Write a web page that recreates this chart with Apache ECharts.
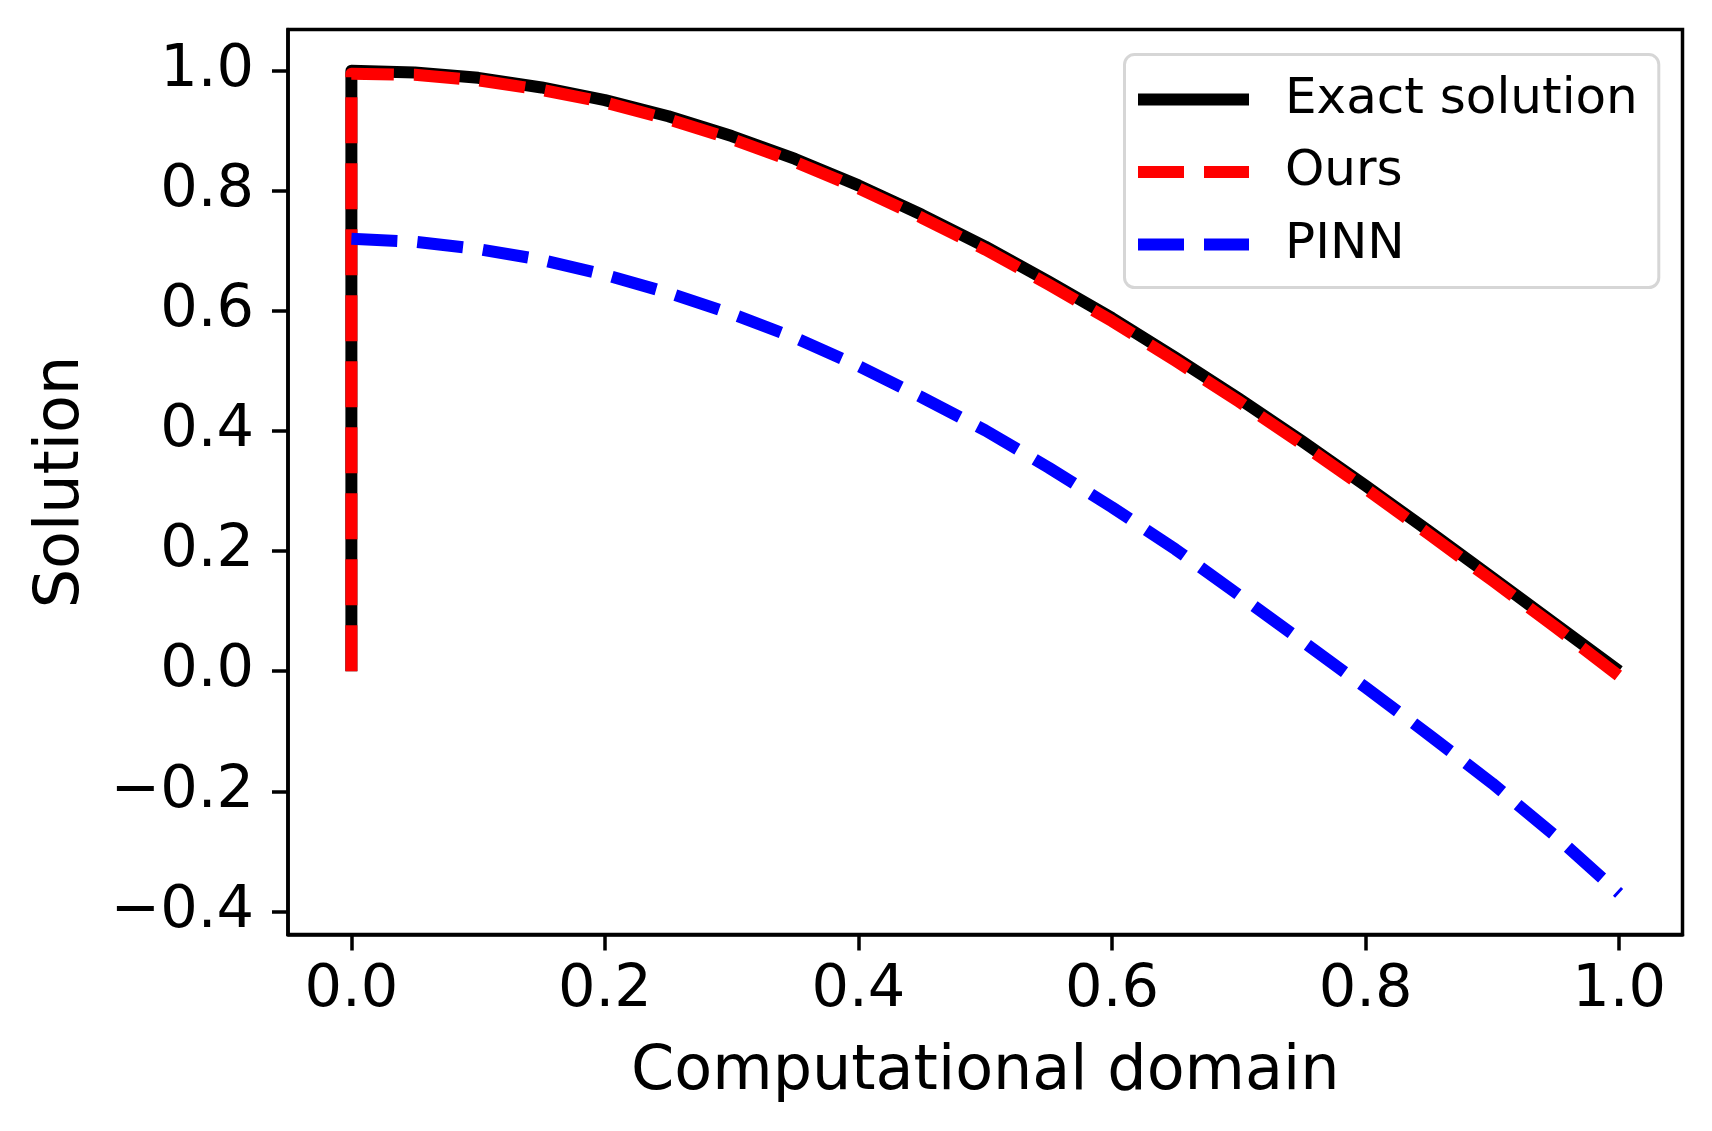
<!DOCTYPE html>
<html>
<head>
<meta charset="utf-8">
<script src="https://cdn.jsdelivr.net/npm/echarts@6/dist/echarts.min.js"></script>
<style>
  html, body { margin: 0; padding: 0; background: #fff; }
  #chart { width: 1712px; height: 1131px; }
</style>
</head>
<body>
<div id="chart"></div>
<script>
// ---- Data ----
const seriesNames = ['Exact solution', 'Ours', 'PINN'];

const exactX = [0, 0, 0.05, 0.10, 0.15, 0.20, 0.25, 0.30, 0.35, 0.40, 0.45, 0.50, 0.55, 0.60, 0.65, 0.70, 0.75, 0.80, 0.85, 0.90, 0.95, 1.00];
const exactY = [0, 1.000, 0.997, 0.988, 0.972, 0.951, 0.924, 0.891, 0.853, 0.809, 0.760, 0.707, 0.649, 0.588, 0.522, 0.454, 0.383, 0.309, 0.233, 0.156, 0.078, 0.000];

const oursX = [0, 0, 0.05, 0.10, 0.15, 0.20, 0.25, 0.30, 0.35, 0.40, 0.45, 0.50, 0.55, 0.60, 0.65, 0.70, 0.75, 0.80, 0.85, 0.90, 0.95, 1.00];
const oursY = [0, 0.995, 0.993, 0.984, 0.968, 0.947, 0.919, 0.886, 0.848, 0.804, 0.755, 0.702, 0.644, 0.583, 0.517, 0.449, 0.378, 0.304, 0.228, 0.151, 0.073, -0.008];

const pinnX = [0, 0.05, 0.10, 0.15, 0.20, 0.25, 0.30, 0.35, 0.40, 0.45, 0.50, 0.55, 0.60, 0.65, 0.70, 0.75, 0.80, 0.85, 0.90, 0.95, 1.00];
const pinnY = [0.720, 0.715, 0.703, 0.685, 0.660, 0.630, 0.595, 0.555, 0.508, 0.456, 0.401, 0.339, 0.273, 0.203, 0.127, 0.050, -0.027, -0.106, -0.187, -0.275, -0.370];

const xTicks = [0, 0.2, 0.4, 0.6, 0.8, 1.0];
const yTicks = [-0.4, -0.2, 0, 0.2, 0.4, 0.6, 0.8, 1.0];

// ---- Chart ----
const FONT = 'DejaVu Sans';
const pair = (xs, ys) => xs.map((x, i) => [x, ys[i]]);
const fmt = v => (v < 0 ? '\u2212' : '') + Math.abs(v).toFixed(1);
const DASH = [46, 20];

const chart = echarts.init(document.getElementById('chart'), null, { renderer: 'canvas' });
chart.setOption({
  animation: false,
  backgroundColor: '#ffffff',
  grid: {
    left: 288, right: 29.5, top: 29.5, bottom: 196.5,
    show: true, borderColor: '#000', borderWidth: 3.5, backgroundColor: 'transparent'
  },
  xAxis: {
    type: 'value', min: -0.05, max: 1.05,
    name: 'Computational domain', nameLocation: 'middle', nameGap: 107.5,
    nameTextStyle: { fontFamily: FONT, fontSize: 62, color: '#000' },
    axisLine: { show: true, onZero: false, lineStyle: { color: '#000', width: 3.5 } },
    axisTick: { show: true, inside: false, length: 16, lineStyle: { color: '#000', width: 3.5 }, customValues: xTicks },
    axisLabel: { show: true, margin: 27, fontFamily: FONT, fontSize: 59, color: '#000', customValues: xTicks, formatter: fmt },
    splitLine: { show: false }
  },
  yAxis: {
    type: 'value', min: -0.4385, max: 1.0685,
    name: 'Solution', nameLocation: 'middle', nameGap: 195.5,
    nameTextStyle: { fontFamily: FONT, fontSize: 62, color: '#000' },
    axisLine: { show: true, onZero: false, lineStyle: { color: '#000', width: 3.5 } },
    axisTick: { show: true, inside: false, length: 16, lineStyle: { color: '#000', width: 3.5 }, customValues: yTicks },
    axisLabel: { show: true, margin: 34, fontFamily: FONT, fontSize: 59, color: '#000', customValues: yTicks, formatter: fmt },
    splitLine: { show: false }
  },
  legend: {
    orient: 'vertical', left: 1124.5, top: 54.6,
    padding: [20, 21, 18, 7.5],
    itemWidth: 111, itemHeight: 14, itemGap: 22.5,
    backgroundColor: '#ffffff', borderColor: '#d6d6d6', borderWidth: 3, borderRadius: 10,
    textStyle: { fontFamily: FONT, fontSize: 50, color: '#000', lineHeight: 50, padding: [0, 0, 0, 31] },
    lineStyle: { width: 12 },
    itemStyle: { opacity: 0, borderWidth: 0 },
    data: seriesNames
  },
  series: [
    {
      name: seriesNames[0], type: 'line', data: pair(exactX, exactY),
      symbol: 'none', showSymbol: false, smooth: false,
      lineStyle: { color: '#000000', width: 12, type: 'solid', cap: 'butt', join: 'round' },
      itemStyle: { color: '#000000' }, z: 2
    },
    {
      name: seriesNames[1], type: 'line', data: pair(oursX, oursY),
      symbol: 'none', showSymbol: false, smooth: false,
      lineStyle: { color: '#ff0000', width: 12, type: DASH, cap: 'butt', join: 'round' },
      itemStyle: { color: '#ff0000' }, z: 3
    },
    {
      name: seriesNames[2], type: 'line', data: pair(pinnX, pinnY),
      symbol: 'none', showSymbol: false, smooth: false,
      lineStyle: { color: '#0000ff', width: 12, type: DASH, cap: 'butt', join: 'round' },
      itemStyle: { color: '#0000ff' }, z: 4
    }
  ]
});
</script>
</body>
</html>
